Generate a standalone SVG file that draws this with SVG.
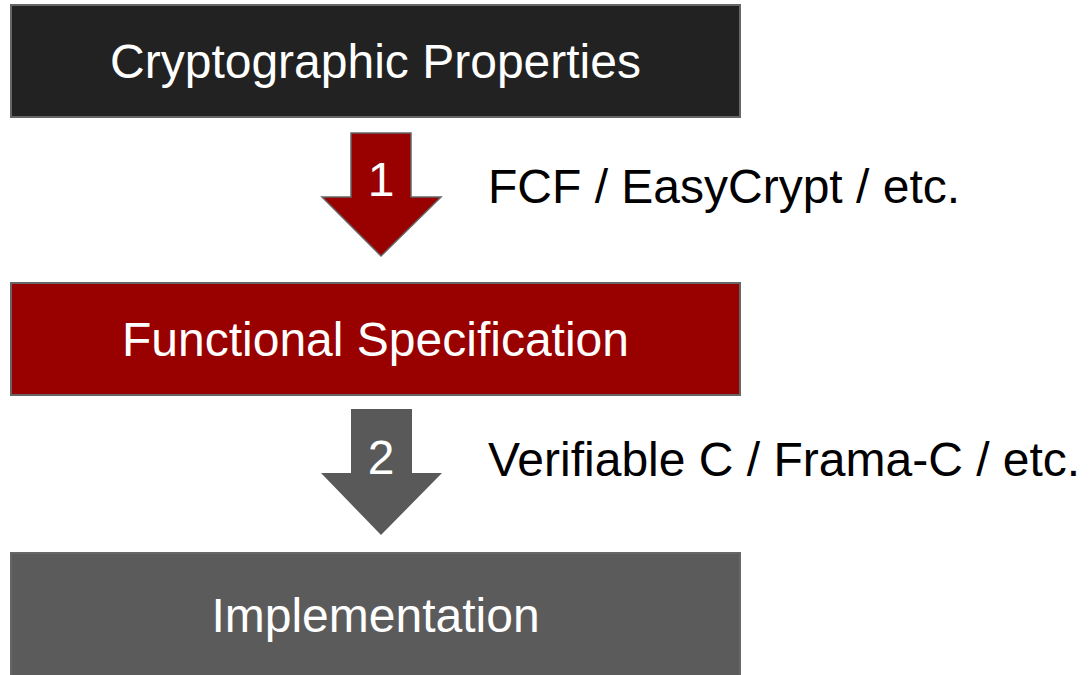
<svg xmlns="http://www.w3.org/2000/svg" width="1089" height="675" viewBox="0 0 1089 675">
<style>
.box{stroke:#666666;stroke-width:2}
.t{font-family:"Liberation Sans",Arial,sans-serif;font-size:48px;fill:#ffffff;text-anchor:middle}
.lbl{font-family:"Liberation Sans",Arial,sans-serif;font-size:48px;fill:#000000}
</style>
<rect width="1089" height="675" fill="#ffffff"/>
<g id="crypto">
<rect class="box" x="11" y="5" width="729" height="112" fill="#222222"/>
<text class="t" x="375.5" y="78">Cryptographic Properties</text>
</g>
<g id="funcspec">
<rect class="box" x="11" y="283" width="729" height="112" fill="#990000"/>
<text class="t" x="375.5" y="356">Functional Specification</text>
</g>
<g id="impl">
<rect class="box" x="11" y="553" width="729" height="130" fill="#5b5b5b"/>
<text class="t" x="375.5" y="632">Implementation</text>
</g>
<g id="connectors">
<g id="arrow1">
<polygon points="351,133 411,133 411,197 441,197 381,256 322,197 351,197" fill="#990000" stroke="#666666" stroke-width="1.5"/>
<text class="t" x="381" y="196">1</text>
</g>
<g id="arrow2">
<polygon points="351,409 412,409 412,473 442,473 381,535 321,473 351,473" fill="#595959"/>
<text class="t" x="381" y="474">2</text>
</g>
<text class="lbl" x="488" y="203">FCF / EasyCrypt / etc.</text>
<text class="lbl" x="488" y="476">Verifiable C / Frama-C / etc.</text>
</g>
</svg>
